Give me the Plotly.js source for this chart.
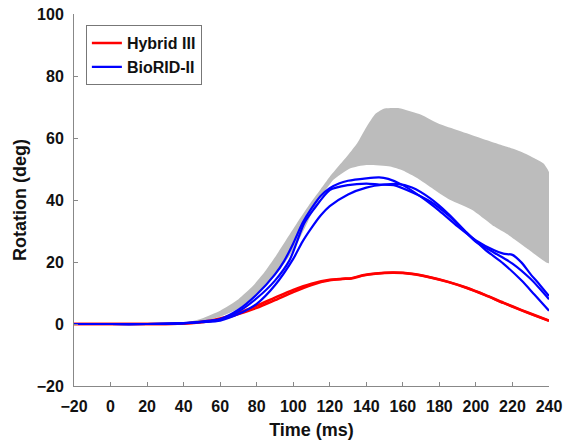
<!DOCTYPE html>
<html>
<head>
<meta charset="utf-8">
<script src="https://cdn.plot.ly/plotly-3.0.1.min.js"></script>
<style>html,body{margin:0;padding:0;background:#fff;}#chart{width:564px;height:445px;}</style>
</head>
<body>
<div id="chart"></div>
<script>
// Corridor (gray band) bounds
const corridorUpperX = [40, 50, 60, 70, 78, 84, 90, 96, 102, 110, 115, 120, 130, 135, 140, 145, 150, 158, 170, 180, 190, 200, 210, 217, 225, 232, 237, 240];
const corridorUpperY = [0.3, 1.8, 4.3, 8, 12.3, 16.5, 21.5, 27, 32.5, 39.5, 43.5, 47.5, 54.5, 58.3, 63.5, 67.8, 69.5, 69.6, 67.5, 64.5, 62.5, 60.5, 58.5, 57.2, 55.5, 53.5, 51.8, 49];
const corridorLowerX = [40, 50, 60, 70, 80, 90, 98, 103, 108, 113, 122, 131, 140, 153, 160, 168, 180, 186, 198, 210, 217, 230, 240];
const corridorLowerY = [0.2, 0.8, 2.3, 5, 9.5, 15.5, 22, 27, 33, 39, 46.5, 50.2, 51.3, 50.8, 49.5, 47, 42.2, 40, 36.8, 31.5, 29, 23.5, 19.6];

// Hybrid III (red) tests
const redX = [-20, 0, 20, 40, 50, 60, 70, 80, 90, 100, 110, 120, 127, 132, 138, 145, 155, 165, 175, 185, 195, 205, 215, 225, 232, 240];
const redA = [0, 0, 0, 0.2, 0.7, 1.8, 3.6, 5.9, 8.5, 11, 13, 14.3, 14.6, 14.8, 15.7, 16.3, 16.6, 16.2, 15.1, 13.6, 11.7, 9.4, 6.9, 4.5, 2.9, 1.1];
const redB = [0, 0, 0, 0.2, 0.6, 1.5, 3.2, 5.2, 7.7, 10.3, 12.6, 14.1, 14.5, 14.7, 15.6, 16.2, 16.5, 16.1, 15, 13.5, 11.6, 9.3, 6.8, 4.4, 2.8, 1];

// BioRID-II (blue) tests
const b1X = [-20, 0, 20, 40, 50, 60, 70, 80, 90, 95, 100, 105, 110, 115, 120, 125, 130, 140, 147, 152, 160, 170, 180, 190, 200, 210, 215, 220, 225, 230, 235, 240];
const b1Y = [0, 0, 0, 0.3, 0.8, 1.6, 4.6, 9.5, 16, 20.3, 26, 32.5, 37.3, 41.3, 43.8, 45.3, 46.2, 47, 47.3, 46.8, 44.8, 41, 36.5, 31.5, 27, 23.8, 22.7, 22.3, 19.8, 16, 12.6, 9];
const b2X = [-20, 0, 20, 40, 50, 60, 70, 80, 90, 98, 106, 111, 120, 130, 140, 147, 155, 165, 175, 185, 193, 200, 210, 220, 230, 240];
const b2Y = [0, 0, 0, 0.3, 0.7, 1.4, 4, 8.3, 14, 20.6, 32.5, 36.8, 43.2, 44.8, 45.3, 45, 44.8, 42.5, 39.5, 35, 30.5, 26.5, 23, 19.5, 14.5, 8];
const b3X = [-20, 0, 20, 40, 50, 60, 70, 80, 90, 100, 105, 110, 115, 120, 130, 140, 150, 157, 165, 175, 185, 195, 205, 215, 225, 232, 240];
const b3Y = [0, 0, 0, 0.2, 0.6, 1.1, 3.2, 6.5, 12.5, 21, 26.5, 31, 35, 38, 41.8, 44, 45, 45.2, 44, 40.5, 35.5, 29.5, 24, 19.5, 14, 9.5, 4.3];

const corridorX = corridorUpperX.concat(corridorLowerX.slice().reverse());
const corridorY = corridorUpperY.concat(corridorLowerY.slice().reverse());

const RED = 'rgb(255,0,0)';
const BLUE = 'rgb(0,0,255)';
const SM = 0.7;

const traces = [
  {x: corridorX, y: corridorY, type: 'scatter', mode: 'lines', fill: 'toself',
   fillcolor: 'rgb(188,188,188)', line: {width: 0, color: 'rgba(0,0,0,0)', shape: 'spline', smoothing: 0.5}, showlegend: false, hoverinfo: 'skip'},
  {x: redX, y: redA, type: 'scatter', mode: 'lines', name: 'Hybrid III', line: {color: RED, width: 2.5, shape: 'spline', smoothing: SM}, showlegend: true},
  {x: redX, y: redB, type: 'scatter', mode: 'lines', name: 'Hybrid III', line: {color: RED, width: 2.5, shape: 'spline', smoothing: SM}, showlegend: false},
  {x: b1X, y: b1Y, type: 'scatter', mode: 'lines', name: 'BioRID-II', line: {color: BLUE, width: 2.2, shape: 'spline', smoothing: SM}, showlegend: true},
  {x: b2X, y: b2Y, type: 'scatter', mode: 'lines', name: 'BioRID-II', line: {color: BLUE, width: 2.2, shape: 'spline', smoothing: SM}, showlegend: false},
  {x: b3X, y: b3Y, type: 'scatter', mode: 'lines', name: 'BioRID-II', line: {color: BLUE, width: 2.2, shape: 'spline', smoothing: SM}, showlegend: false}
];

const FONT = 'Liberation Sans, Arial, sans-serif';
const layout = {
  width: 564, height: 445,
  margin: {l: 74, r: 15, t: 14, b: 59},
  paper_bgcolor: '#fff', plot_bgcolor: '#fff',
  font: {family: FONT, color: '#111'},
  showlegend: true,
  legend: {x: 0.025, y: 0.97, xanchor: 'left', yanchor: 'top',
           bgcolor: '#fff', bordercolor: '#777', borderwidth: 1,
           font: {family: FONT, size: 16, weight: 'bold', color: '#111'},
           tracegroupgap: 0, itemwidth: 30},
  xaxis: {range: [-20, 240], tick0: -20, dtick: 20, showgrid: false, zeroline: false,
          showline: true, linecolor: '#888', linewidth: 1, ticks: 'inside', ticklen: 4, tickcolor: '#888',
          tickfont: {family: FONT, size: 16, weight: 'bold', color: '#111'},
          ticklabelstandoff: 6,
          title: {text: 'Time (ms)', font: {family: FONT, size: 18, weight: 'bold', color: '#111'}, standoff: 9}},
  yaxis: {range: [-20, 100], tick0: -20, dtick: 20, showgrid: false, zeroline: false,
          showline: true, linecolor: '#888', linewidth: 1, ticks: 'inside', ticklen: 4, tickcolor: '#888',
          tickfont: {family: FONT, size: 16, weight: 'bold', color: '#111'},
          ticklabelstandoff: 6,
          title: {text: 'Rotation (deg)', font: {family: FONT, size: 18, weight: 'bold', color: '#111'}, standoff: 5}}
};

Plotly.newPlot('chart', traces, layout, {displayModeBar: false, staticPlot: true});
</script>
</body>
</html>
